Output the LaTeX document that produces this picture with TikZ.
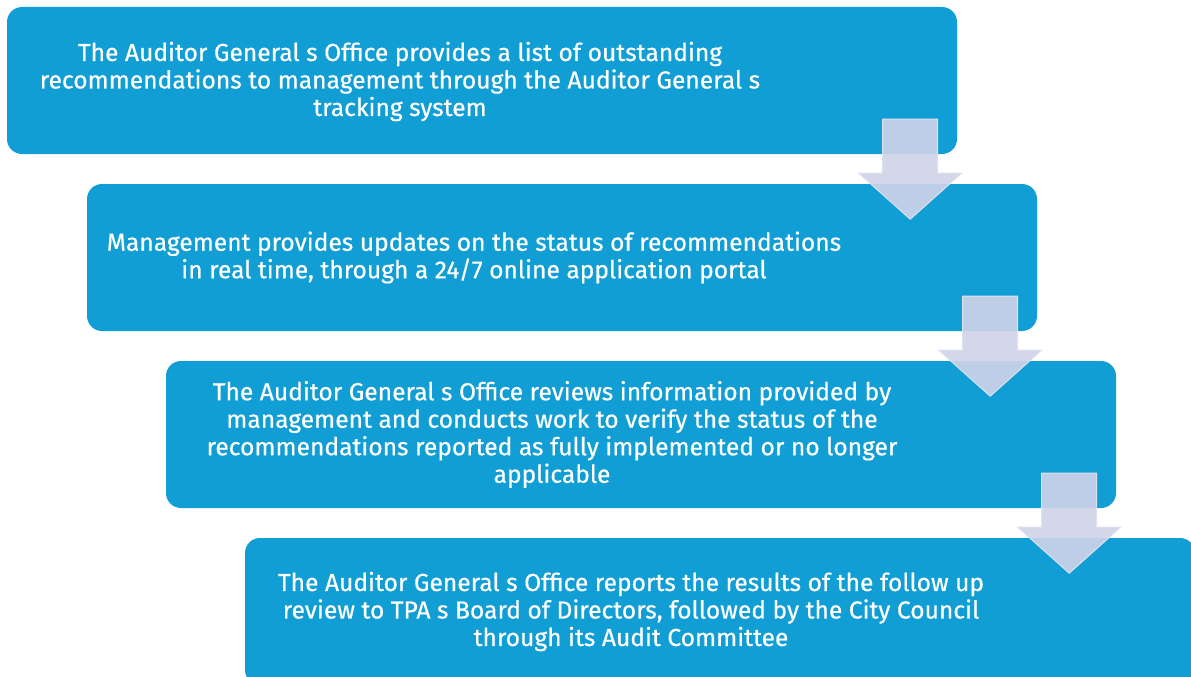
\documentclass[tikz,border=0pt]{standalone}
\usepackage{fontspec}
\setmainfont{Fira Sans}[FakeBold=0.5]
\usetikzlibrary{calc}
\definecolor{boxblue}{RGB}{16,158,213}
\definecolor{arrowfill}{RGB}{208,211,232}
\definecolor{arrowedge}{RGB}{222,225,240}
\begin{document}
\begin{tikzpicture}[x=1pt,y=-1pt,
  stepbox/.style={fill=boxblue, draw=none, rounded corners=15pt, minimum width=950pt, minimum height=147pt, inner sep=0pt},
  steptext/.style={text=white, align=center, inner sep=0pt, font=\fontsize{24.6}{27.5}\selectfont},
  downarrow/.style={fill=arrowfill, fill opacity=0.91, draw=arrowedge, line width=1pt}]
\useasboundingbox (0,0) rectangle (1191,677);
\clip (0,0) rectangle (1191,677);
\node[stepbox] (b1) at (482,80.5) {};
\node[stepbox] (b2) at (562,257.5) {};
\node[stepbox] (b3) at (641,434.5) {};
\node[stepbox] (b4) at (720,611.5) {};
\foreach \k in {1,2,3}{
  \coordinate (top\k) at ($(b\k.south east)+(-47,-35)$);
  \draw[downarrow] (top\k) ++(-27.5,0) -- ++(55,0) -- ++(0,54) -- ++(24,0) -- ++(-51.5,46) -- ++(-51.5,-46) -- ++(24,0) -- cycle;
}
\node[steptext] (t1) at (400,81.5) {The Auditor General s Office provides a list of outstanding\\recommendations to management through the Auditor General s\\tracking system};
\node[steptext] (t2) at (474,257.5) {Management provides updates on the status of recommendations\\in real time, through a 24/7 online application portal};
\node[steptext] (t3) at (552,434.5) {The Auditor General s Office reviews information provided by\\management and conducts work to verify the status of the\\recommendations reported as fully implemented or no longer\\applicable};
\node[steptext] (t4) at (631,611.5) {The Auditor General s Office reports the results of the follow up\\review to TPA s Board of Directors, followed by the City Council\\through its Audit Committee};
\end{tikzpicture}
\end{document}
